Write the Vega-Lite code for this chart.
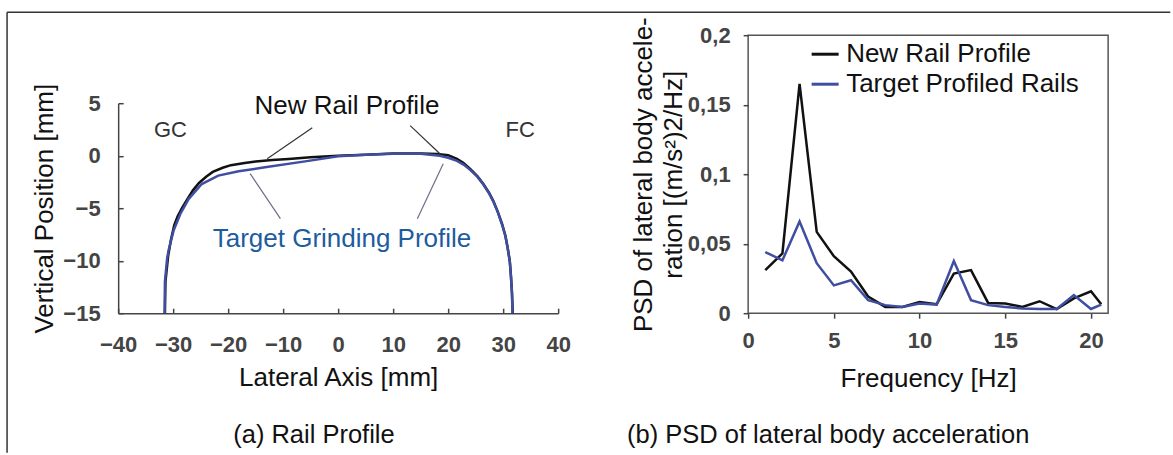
{
  "$schema": "https://vega.github.io/schema/vega-lite/v6.json",
  "padding": {"left": 6.15, "top": 11.2, "right": 0, "bottom": 0},
  "background": "white",
  "bounds": "flush",
  "spacing": 190,
  "config": {
    "font": "Liberation Sans",
    "axis": {
      "grid": false,
      "labelFont": "Liberation Sans",
      "labelFontSize": 22,
      "labelColor": "#444",
      "labelFontWeight": "bold",
      "titleFont": "Liberation Sans",
      "titleFontSize": 26,
      "titleFontWeight": "normal",
      "titleColor": "#111",
      "domainColor": "#444",
      "domainWidth": 1.5,
      "tickColor": "#444",
      "tickWidth": 1.5,
      "labelFlush": false,
      "labelOverlap": false
    }
  },
  "datasets": {
    "frame": [
      {"x": -60.2, "y": 13.67, "x2": 151.3, "y2": 13.67},
      {"x": -60.2, "y": 13.67, "x2": -60.2, "y2": -28.3}
    ],
    "profile": [
      {"series": "New Rail Profile", "x": -31.5, "y": -15},
      {"series": "New Rail Profile", "x": -31.4, "y": -12},
      {"series": "New Rail Profile", "x": -30.9, "y": -9.5},
      {"series": "New Rail Profile", "x": -30.4, "y": -8.0},
      {"series": "New Rail Profile", "x": -29.8, "y": -6.6},
      {"series": "New Rail Profile", "x": -29.2, "y": -5.8},
      {"series": "New Rail Profile", "x": -28.4, "y": -5.0},
      {"series": "New Rail Profile", "x": -27.5, "y": -4.2},
      {"series": "New Rail Profile", "x": -26.4, "y": -3.3},
      {"series": "New Rail Profile", "x": -25.3, "y": -2.6},
      {"series": "New Rail Profile", "x": -24.0, "y": -2.0},
      {"series": "New Rail Profile", "x": -22.8, "y": -1.55},
      {"series": "New Rail Profile", "x": -21.0, "y": -1.15},
      {"series": "New Rail Profile", "x": -19.5, "y": -0.9},
      {"series": "New Rail Profile", "x": -17, "y": -0.7},
      {"series": "New Rail Profile", "x": -15, "y": -0.55},
      {"series": "New Rail Profile", "x": -12, "y": -0.42},
      {"series": "New Rail Profile", "x": -9, "y": -0.32},
      {"series": "New Rail Profile", "x": -5, "y": -0.15},
      {"series": "New Rail Profile", "x": 0, "y": 0},
      {"series": "New Rail Profile", "x": 5, "y": 0.1},
      {"series": "New Rail Profile", "x": 10, "y": 0.2},
      {"series": "New Rail Profile", "x": 15, "y": 0.22},
      {"series": "New Rail Profile", "x": 18, "y": 0.15},
      {"series": "New Rail Profile", "x": 20, "y": 0.05},
      {"series": "New Rail Profile", "x": 21.6, "y": -0.3},
      {"series": "New Rail Profile", "x": 22.8, "y": -0.7},
      {"series": "New Rail Profile", "x": 24.0, "y": -1.25},
      {"series": "New Rail Profile", "x": 25.3, "y": -1.95},
      {"series": "New Rail Profile", "x": 26.4, "y": -2.7},
      {"series": "New Rail Profile", "x": 27.4, "y": -3.5},
      {"series": "New Rail Profile", "x": 28.2, "y": -4.3},
      {"series": "New Rail Profile", "x": 29.0, "y": -5.3},
      {"series": "New Rail Profile", "x": 29.8, "y": -6.5},
      {"series": "New Rail Profile", "x": 30.4, "y": -7.6},
      {"series": "New Rail Profile", "x": 30.8, "y": -8.7},
      {"series": "New Rail Profile", "x": 31.2, "y": -10},
      {"series": "New Rail Profile", "x": 31.4, "y": -11.3},
      {"series": "New Rail Profile", "x": 31.6, "y": -13},
      {"series": "New Rail Profile", "x": 31.75, "y": -15},
      {"series": "Target Grinding Profile", "x": -31.55, "y": -15},
      {"series": "Target Grinding Profile", "x": -31.5, "y": -12},
      {"series": "Target Grinding Profile", "x": -31.1, "y": -9.8},
      {"series": "Target Grinding Profile", "x": -30.85, "y": -9.05},
      {"series": "Target Grinding Profile", "x": -29.9, "y": -7.1},
      {"series": "Target Grinding Profile", "x": -28.7, "y": -5.55},
      {"series": "Target Grinding Profile", "x": -27.2, "y": -4.13},
      {"series": "Target Grinding Profile", "x": -24.8, "y": -2.7},
      {"series": "Target Grinding Profile", "x": -21.8, "y": -1.9},
      {"series": "Target Grinding Profile", "x": -18.1, "y": -1.49},
      {"series": "Target Grinding Profile", "x": -13.3, "y": -1.11},
      {"series": "Target Grinding Profile", "x": -6.0, "y": -0.54},
      {"series": "Target Grinding Profile", "x": 0, "y": -0.05},
      {"series": "Target Grinding Profile", "x": 5, "y": 0.08},
      {"series": "Target Grinding Profile", "x": 10, "y": 0.18},
      {"series": "Target Grinding Profile", "x": 15, "y": 0.18},
      {"series": "Target Grinding Profile", "x": 18.5, "y": 0.0},
      {"series": "Target Grinding Profile", "x": 20, "y": -0.2},
      {"series": "Target Grinding Profile", "x": 21.6, "y": -0.5},
      {"series": "Target Grinding Profile", "x": 22.8, "y": -0.85},
      {"series": "Target Grinding Profile", "x": 24.0, "y": -1.35},
      {"series": "Target Grinding Profile", "x": 25.3, "y": -2.0},
      {"series": "Target Grinding Profile", "x": 26.4, "y": -2.75},
      {"series": "Target Grinding Profile", "x": 27.4, "y": -3.55},
      {"series": "Target Grinding Profile", "x": 28.2, "y": -4.35},
      {"series": "Target Grinding Profile", "x": 29.0, "y": -5.35},
      {"series": "Target Grinding Profile", "x": 29.8, "y": -6.55},
      {"series": "Target Grinding Profile", "x": 30.4, "y": -7.65},
      {"series": "Target Grinding Profile", "x": 30.8, "y": -8.75},
      {"series": "Target Grinding Profile", "x": 31.2, "y": -10.05},
      {"series": "Target Grinding Profile", "x": 31.4, "y": -11.35},
      {"series": "Target Grinding Profile", "x": 31.6, "y": -13.05},
      {"series": "Target Grinding Profile", "x": 31.7, "y": -15}
    ],
    "leaders": [
      {"kind": "new", "x": -4.7, "y": 2.67, "x2": -12.9, "y2": -0.29},
      {"kind": "new", "x": 13.1, "y": 2.86, "x2": 18.5, "y2": 0.19},
      {"kind": "target", "x": -10.5, "y": -6.0, "x2": -16.0, "y2": -1.71},
      {"kind": "target", "x": 14.4, "y": -6.0, "x2": 19.1, "y2": -0.76}
    ],
    "notes": [
      {"kind": "side", "x": -30.5, "y": 2.4, "text": "GC"},
      {"kind": "side", "x": 33.1, "y": 2.4, "text": "FC"},
      {"kind": "new", "x": 1.6, "y": 4.75, "text": "New Rail Profile"},
      {"kind": "target", "x": 0.7, "y": -7.9, "text": "Target Grinding Profile"},
      {"kind": "caption", "x": -4.4, "y": -26.6, "text": "(a) Rail Profile"}
    ],
    "psd": [
      {"series": "New Rail Profile", "f": 1, "psd": 0.031},
      {"series": "New Rail Profile", "f": 2, "psd": 0.043},
      {"series": "New Rail Profile", "f": 3, "psd": 0.165},
      {"series": "New Rail Profile", "f": 4, "psd": 0.0585},
      {"series": "New Rail Profile", "f": 5, "psd": 0.041},
      {"series": "New Rail Profile", "f": 6, "psd": 0.03},
      {"series": "New Rail Profile", "f": 7, "psd": 0.012},
      {"series": "New Rail Profile", "f": 8, "psd": 0.0045},
      {"series": "New Rail Profile", "f": 9, "psd": 0.0045},
      {"series": "New Rail Profile", "f": 10, "psd": 0.008},
      {"series": "New Rail Profile", "f": 11, "psd": 0.0065},
      {"series": "New Rail Profile", "f": 12, "psd": 0.0285},
      {"series": "New Rail Profile", "f": 13, "psd": 0.031},
      {"series": "New Rail Profile", "f": 14, "psd": 0.0074},
      {"series": "New Rail Profile", "f": 15, "psd": 0.007},
      {"series": "New Rail Profile", "f": 16, "psd": 0.0045},
      {"series": "New Rail Profile", "f": 17, "psd": 0.0086},
      {"series": "New Rail Profile", "f": 18, "psd": 0.0029},
      {"series": "New Rail Profile", "f": 19, "psd": 0.0106},
      {"series": "New Rail Profile", "f": 20, "psd": 0.0158},
      {"series": "New Rail Profile", "f": 20.6, "psd": 0.0065},
      {"series": "Target Profiled Rails", "f": 1, "psd": 0.044},
      {"series": "Target Profiled Rails", "f": 2, "psd": 0.038},
      {"series": "Target Profiled Rails", "f": 3, "psd": 0.066},
      {"series": "Target Profiled Rails", "f": 4, "psd": 0.036},
      {"series": "Target Profiled Rails", "f": 5, "psd": 0.02},
      {"series": "Target Profiled Rails", "f": 6, "psd": 0.0237},
      {"series": "Target Profiled Rails", "f": 7, "psd": 0.0094},
      {"series": "Target Profiled Rails", "f": 8, "psd": 0.0058},
      {"series": "Target Profiled Rails", "f": 9, "psd": 0.0045},
      {"series": "Target Profiled Rails", "f": 10, "psd": 0.007},
      {"series": "Target Profiled Rails", "f": 11, "psd": 0.0062},
      {"series": "Target Profiled Rails", "f": 12, "psd": 0.0376},
      {"series": "Target Profiled Rails", "f": 13, "psd": 0.0094},
      {"series": "Target Profiled Rails", "f": 14, "psd": 0.0058},
      {"series": "Target Profiled Rails", "f": 15, "psd": 0.0045},
      {"series": "Target Profiled Rails", "f": 16, "psd": 0.0034},
      {"series": "Target Profiled Rails", "f": 17, "psd": 0.003},
      {"series": "Target Profiled Rails", "f": 18, "psd": 0.003},
      {"series": "Target Profiled Rails", "f": 19, "psd": 0.013},
      {"series": "Target Profiled Rails", "f": 20, "psd": 0.003},
      {"series": "Target Profiled Rails", "f": 20.6, "psd": 0.0062}
    ],
    "captionB": [
      {"f": 4.67, "psd": -0.0878, "text": "(b) PSD of lateral body acceleration"}
    ]
  },
  "hconcat": [
    {
      "width": 440,
      "height": 278,
      "view": {"stroke": null},
      "layer": [
        {
          "data": {"name": "profile"},
          "mark": {"type": "line", "strokeWidth": 2.5},
          "encoding": {
            "x": {
              "field": "x", "type": "quantitative",
              "scale": {"domain": [-40, 40], "nice": false, "zero": false},
              "axis": {
                "title": "Lateral Axis [mm]",
                "values": [-40, -30, -20, -10, 0, 10, 20, 30, 40],
                "tickSize": -5,
                "labelPadding": 26,
                "titlePadding": 9
              }
            },
            "y": {
              "field": "y", "type": "quantitative",
              "scale": {"domain": [-15, 5], "range": [278, 68], "nice": false, "zero": false},
              "axis": {
                "title": "Vertical Position [mm]",
                "values": [-15, -10, -5, 0, 5],
                "tickSize": -5,
                "labelPadding": 23,
                "titlePadding": 5
              }
            },
            "color": {
              "field": "series", "type": "nominal",
              "scale": {"domain": ["New Rail Profile", "Target Grinding Profile"], "range": ["#111111", "#3f4ea0"]},
              "legend": null
            }
          }
        },
        {
          "data": {"name": "frame"},
          "mark": {"type": "rule", "color": "#333", "strokeWidth": 1.5},
          "encoding": {
            "x": {"field": "x", "type": "quantitative"},
            "y": {"field": "y", "type": "quantitative"},
            "x2": {"field": "x2"},
            "y2": {"field": "y2"}
          }
        },
        {
          "data": {"name": "leaders"},
          "transform": [{"filter": "datum.kind === 'new'"}],
          "mark": {"type": "rule", "color": "#333", "strokeWidth": 1.2},
          "encoding": {
            "x": {"field": "x", "type": "quantitative"},
            "y": {"field": "y", "type": "quantitative"},
            "x2": {"field": "x2"},
            "y2": {"field": "y2"}
          }
        },
        {
          "data": {"name": "leaders"},
          "transform": [{"filter": "datum.kind === 'target'"}],
          "mark": {"type": "rule", "color": "#6b6f8a", "strokeWidth": 1.2},
          "encoding": {
            "x": {"field": "x", "type": "quantitative"},
            "y": {"field": "y", "type": "quantitative"},
            "x2": {"field": "x2"},
            "y2": {"field": "y2"}
          }
        },
        {
          "data": {"name": "notes"},
          "transform": [{"filter": "datum.kind === 'side'"}],
          "mark": {"type": "text", "font": "Liberation Sans", "fontSize": 22, "color": "#333", "baseline": "middle"},
          "encoding": {
            "x": {"field": "x", "type": "quantitative"},
            "y": {"field": "y", "type": "quantitative"},
            "text": {"field": "text"}
          }
        },
        {
          "data": {"name": "notes"},
          "transform": [{"filter": "datum.kind === 'new'"}],
          "mark": {"type": "text", "font": "Liberation Sans", "fontSize": 26, "color": "#111", "baseline": "middle"},
          "encoding": {
            "x": {"field": "x", "type": "quantitative"},
            "y": {"field": "y", "type": "quantitative"},
            "text": {"field": "text"}
          }
        },
        {
          "data": {"name": "notes"},
          "transform": [{"filter": "datum.kind === 'target'"}],
          "mark": {"type": "text", "font": "Liberation Sans", "fontSize": 26, "color": "#1d5c9e", "baseline": "middle"},
          "encoding": {
            "x": {"field": "x", "type": "quantitative"},
            "y": {"field": "y", "type": "quantitative"},
            "text": {"field": "text"}
          }
        },
        {
          "data": {"name": "notes"},
          "transform": [{"filter": "datum.kind === 'caption'"}],
          "mark": {"type": "text", "font": "Liberation Sans", "fontSize": 25.5, "color": "#111", "baseline": "middle"},
          "encoding": {
            "x": {"field": "x", "type": "quantitative"},
            "y": {"field": "y", "type": "quantitative"},
            "text": {"field": "text"}
          }
        }
      ]
    },
    {
      "width": 360,
      "height": 278,
      "view": {"stroke": "#555", "strokeWidth": 1.5},
      "layer": [
        {
          "data": {"name": "psd"},
          "mark": {"type": "line", "strokeWidth": 2.5},
          "encoding": {
            "x": {
              "field": "f", "type": "quantitative",
              "scale": {"domain": [0, 21], "nice": false, "zero": false},
              "axis": {
                "title": "Frequency [Hz]",
                "values": [0, 5, 10, 15, 20],
                "tickSize": 5,
                "domain": false,
                "labelPadding": 12,
                "titlePadding": 14
              }
            },
            "y": {
              "field": "psd", "type": "quantitative",
              "scale": {"domain": [0, 0.2], "nice": false, "zero": false},
              "axis": {
                "title": ["PSD of lateral body accele-", "ration [(m/s²)2/Hz]"],
                "values": [0, 0.05, 0.1, 0.15, 0.2],
                "labelExpr": "replace(format(datum.value, '~g'), '.', ',')",
                "tickSize": 5,
                "domain": false,
                "labelPadding": 13,
                "titlePadding": 1,
                "titleLineHeight": 30
              }
            },
            "color": {
              "field": "series", "type": "nominal",
              "scale": {"domain": ["New Rail Profile", "Target Profiled Rails"], "range": ["#111111", "#3f4ea0"]},
              "legend": {
                "title": null,
                "orient": "none",
                "legendX": 62,
                "legendY": 4,
                "symbolType": "stroke",
                "symbolSize": 729,
                "symbolStrokeWidth": 3,
                "labelFont": "Liberation Sans",
                "labelFontSize": 26,
                "labelColor": "#111",
                "labelOffset": 6,
                "labelLimit": 400,
                "rowPadding": 2,
                "padding": 0
              }
            }
          }
        },
        {
          "data": {"name": "captionB"},
          "mark": {"type": "text", "font": "Liberation Sans", "fontSize": 25.5, "color": "#111", "baseline": "middle"},
          "encoding": {
            "x": {"field": "f", "type": "quantitative"},
            "y": {"field": "psd", "type": "quantitative"},
            "text": {"field": "text"}
          }
        }
      ]
    }
  ],
  "resolve": {"scale": {"color": "independent"}, "legend": {"color": "independent"}}
}
